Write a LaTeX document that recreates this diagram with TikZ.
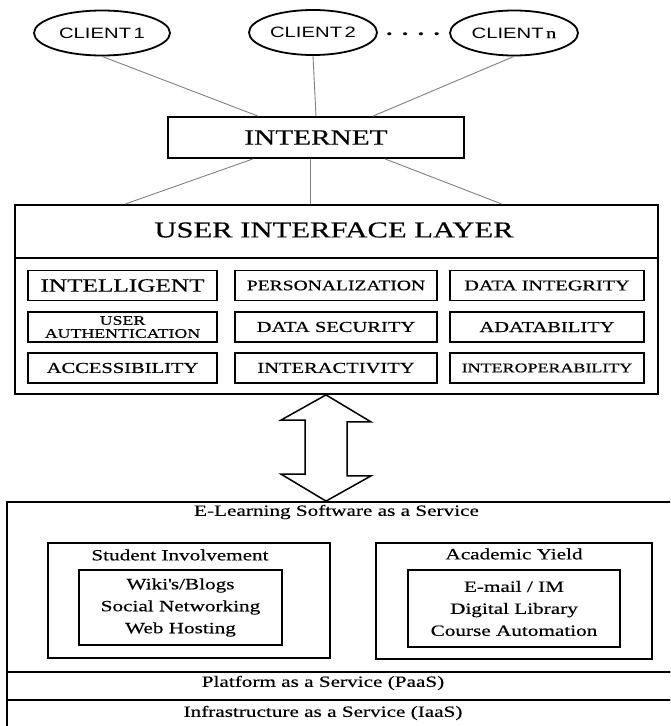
\documentclass[tikz,border=0pt]{standalone}
\usepackage{fontspec}
\setmainfont[FakeStretch=1.35, FakeBold=0.4]{Liberation Serif}
\setsansfont[FakeStretch=1.35]{Liberation Sans}
\usetikzlibrary{shapes.geometric, positioning}

\begin{document}
\begin{tikzpicture}[
    x=1pt, y=-1pt,
    client/.style={draw, ellipse, line width=1.8, minimum width=128, minimum height=45, inner sep=0, font=\sffamily\fontsize{15}{17}\selectfont},
    box/.style={draw, line width=1.8, inner sep=0},
    feature/.style={box, minimum height=30, font=\fontsize{15.2}{17}\selectfont},
    wire/.style={draw=gray, line width=0.9},
    caption/.style={inner sep=0, font=\fontsize{15.7}{18}\selectfont},
    itemlist/.style={box, align=center, font=\fontsize{15.7}{22}\selectfont}
]
    \clip (0,0) rectangle (670,726);

    \node[client, minimum width=136] (client1) at (102,33)   {CLIENT\,1};
    \node[client]                    (client2) at (313,32.5) {CLIENT\,2};
    \node[inner sep=0, font=\fontsize{24}{24}\selectfont] (dots) at (413,37) {·\hspace{5pt}·\hspace{5pt}·\hspace{5pt}·};
    \node[client]                    (clientn) at (514,33)   {CLIENT\,{\rmfamily n}};

    \node[box, minimum width=296, minimum height=41, font=\fontsize{21.7}{24}\selectfont] (internet) at (316,137.5) {INTERNET};

    \node[box, minimum width=643, minimum height=189] (ui) at (336.5,299.5) {};
    \node[inner sep=0, font=\fontsize{22.7}{25}\selectfont] (uititle) at (334,230) {USER INTERFACE LAYER};
    \coordinate (uisplit) at (0,258);
    \draw[line width=1.8] (ui.west |- uisplit) -- (ui.east |- uisplit);

    \node[feature, minimum width=189, font=\fontsize{18.7}{20}\selectfont] (intelligent) at (122.5,285.5) {INTELLIGENT};
    \node[feature, minimum width=202, font=\fontsize{14.5}{16}\selectfont] (personal)    at (336,285.5)   {PERSONALIZATION};
    \node[feature, minimum width=194, font=\fontsize{15}{17}\selectfont]   (integrity)   at (547,285.5)   {DATA INTEGRITY};
    \node[feature, minimum width=189, align=center, font=\fontsize{13.2}{13}\selectfont] (auth) at (122.5,327) {USER\\AUTHENTICATION};
    \node[feature, minimum width=202] (security) at (336,327)   {DATA SECURITY};
    \node[feature, minimum width=194] (adapt)    at (547,327)   {ADATABILITY};
    \node[feature, minimum width=189] (access)   at (122.5,368) {ACCESSIBILITY};
    \node[feature, minimum width=202] (interact) at (336,368)   {INTERACTIVITY};
    \node[feature, minimum width=194, font=\fontsize{13.3}{15}\selectfont] (interop) at (547,368) {INTEROPERABILITY};

    \node[box, minimum width=680, minimum height=170] (saas) at (347,587) {};
    \node[box, minimum width=680, minimum height=28]  (paas) at (347,686) {};
    \node[box, minimum width=680, minimum height=40]  (iaas) at (347,720) {};
    \node[caption] (saastitle) at (336.5,512) {E-Learning Software as a Service};
    \node[caption] (paastitle) at (323,683)   {Platform as a Service (PaaS)};
    \node[caption] (iaastitle) at (323,713)   {Infrastructure as a Service (IaaS)};

    \node[box, minimum width=282, minimum height=115] (student) at (189,600.5) {};
    \node[caption] (studenttitle) at (180,555) {Student Involvement};
    \node[itemlist, minimum width=203, minimum height=75] (studentlist) at (180.5,607.5) {Wiki\textquotesingle s/Blogs\\Social Networking\\Web Hosting};

    \node[box, minimum width=276, minimum height=116] (academic) at (514,601) {};
    \node[caption] (academictitle) at (514,554) {Academic Yield};
    \node[itemlist, minimum width=212, minimum height=77] (academiclist) at (514,608.5) {E-mail / IM\\Digital Library\\Course Automation};

    \draw[wire] (client1.south) -- ([xshift=-58]internet.north);
    \draw[wire] (client2.south) -- (internet.north);
    \draw[wire] (clientn.south) -- ([xshift=57]internet.north);
    \draw[wire] ([xshift=-63]internet.south) -- ([xshift=-211.5]ui.north);
    \draw[wire] ([xshift=-6]internet.south)  -- ([xshift=-26.5]ui.north);
    \draw[wire] ([xshift=69]internet.south)  -- ([xshift=165.5]ui.north);

    \coordinate (arrtop) at ([xshift=-10.5]ui.south);
    \coordinate (arrbot) at (arrtop |- saas.north);
    \draw[line width=1.5, fill=white] (arrtop) -- ++(45,27) -- ++(-24,0) -- ++(0,54) -- ++(24,0)
        -- (arrbot) -- ++(-45,-27) -- ++(24,0) -- ++(0,-54) -- ++(-24,0) -- cycle;
\end{tikzpicture}
\end{document}
